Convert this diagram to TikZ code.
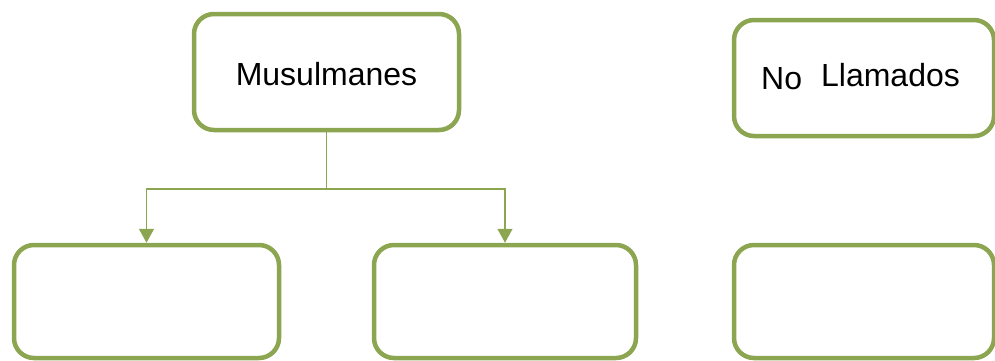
\documentclass[tikz,border=0pt]{standalone}
\usepackage{fontspec}
\setmainfont{Liberation Sans}
\usetikzlibrary{arrows.meta}
\definecolor{olive}{RGB}{139,165,80}
\begin{document}
\begin{tikzpicture}[x=1pt,y=-1pt,
  box/.style={draw=olive,line width=4.5pt,rounded corners=20pt,inner sep=0pt,fill=white},
  conn/.style={draw=olive,line width=1.3pt,-{Triangle[width=15pt,length=14pt]}},
  lbl/.style={font=\fontsize{32}{38}\selectfont,inner sep=0pt}]
\useasboundingbox (0,0) rectangle (995,360);
\node[box,minimum width=265pt,minimum height=116pt] (top) at (326.5,72) {};
\node[lbl] (toptext) at (326.5,74) {Musulmanes};
\node[box,minimum width=260pt,minimum height=116pt] (rtop) at (864,78) {};
\node[lbl,anchor=west] (rtoptext) at (761,77) {\raisebox{-3pt}{No}\hspace{19pt}Llamados};
\node[box,minimum width=265pt,minimum height=113pt] (bl) at (146.5,301.5) {};
\node[box,minimum width=262pt,minimum height=113pt] (bm) at (505,301.5) {};
\node[box,minimum width=260pt,minimum height=113pt] (br) at (864,301.5) {};
\coordinate (j) at (326.5,189);
\draw[olive,line width=1.3pt] (top.south) -- (j);
\draw[conn] (j) -| (bl.north);
\draw[conn] (j) -| (bm.north);
\end{tikzpicture}
\end{document}
